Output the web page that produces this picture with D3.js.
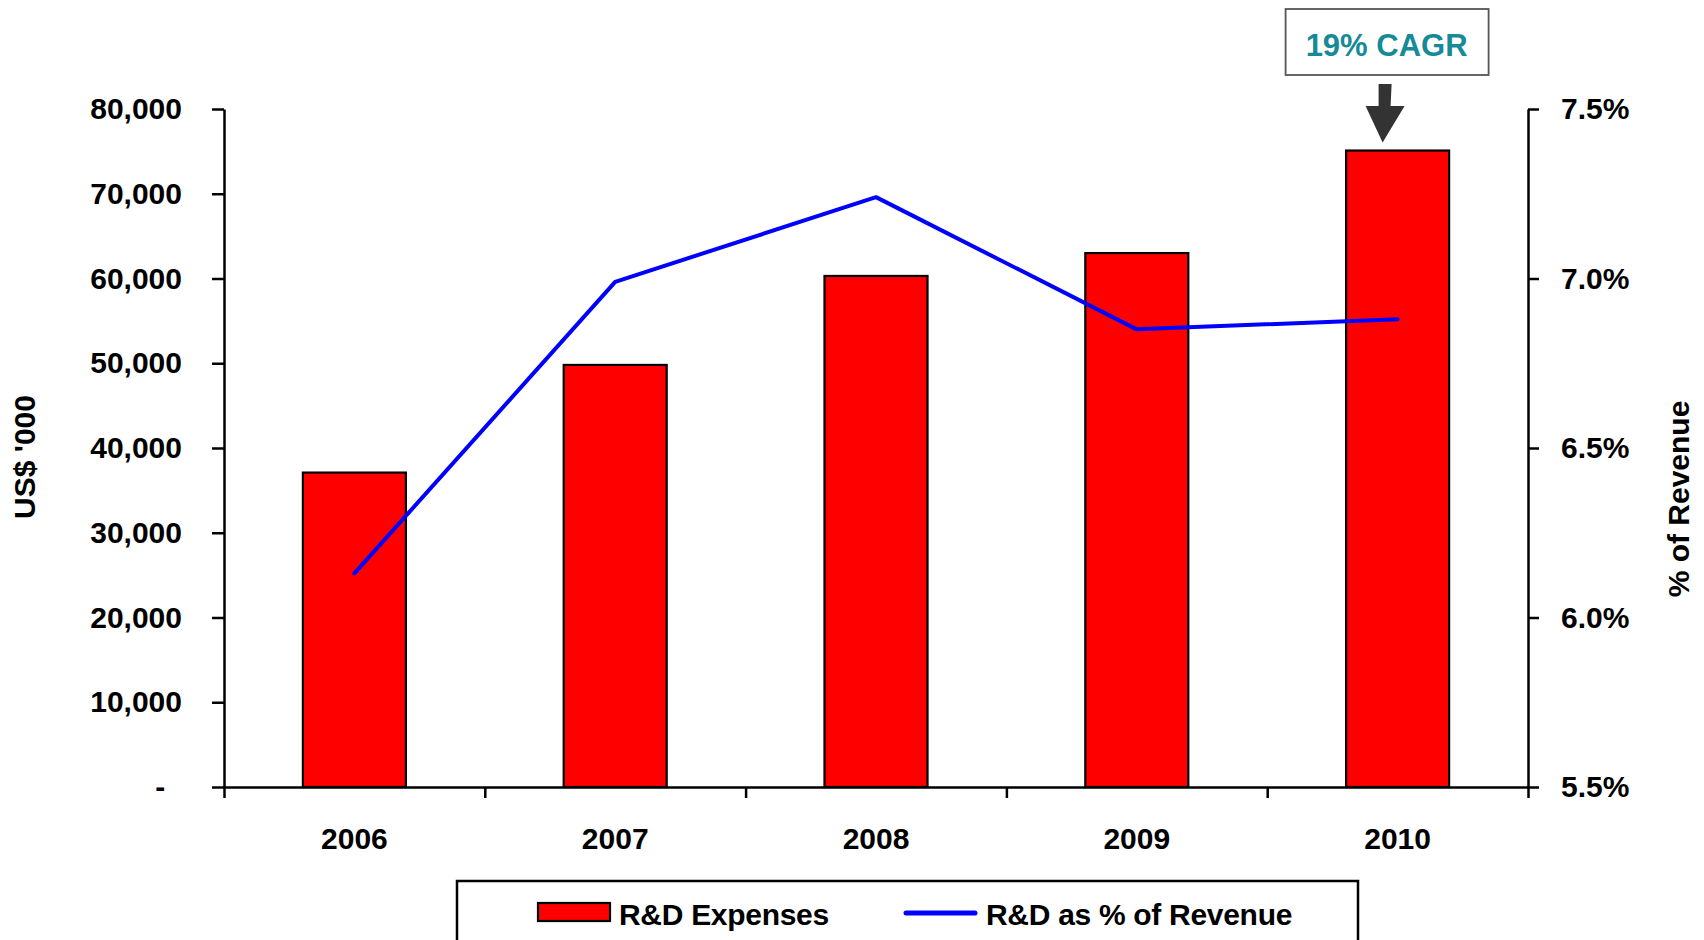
<!DOCTYPE html>
<html>
<head>
<meta charset="utf-8">
<script src="https://cdn.jsdelivr.net/npm/d3@7"></script>
<style>
  html, body { margin: 0; padding: 0; background: #fff; }
  svg { display: block; }
  text { font-family: "Liberation Sans", Arial, sans-serif; font-weight: bold; }
</style>
</head>
<body>
<svg id="chart" width="1704" height="940"></svg>
<script>
// R&D spend by year (US$ '000) and R&D as a share of revenue (%)
const years = ["2006", "2007", "2008", "2009", "2010"];
const rdExpenses = [37100, 49800, 60300, 63000, 75100];
const rdPctRevenue = [6.13, 6.99, 7.24, 6.85, 6.88];
const leftTicks = [0, 10000, 20000, 30000, 40000, 50000, 60000, 70000, 80000];
const rightTicks = [5.5, 6.0, 6.5, 7.0, 7.5];
const legendLabels = ["R&D Expenses", "R&D as % of Revenue"];
const cagrLabel = "19% CAGR";

const svg = d3.select("#chart");
const plot = { left: 224, right: 1528, top: 109, bottom: 787 };

const x = d3.scaleBand().domain(years).range([plot.left, plot.right]).padding(0);
const xEdges = d3.scaleLinear().domain([0, years.length]).range([plot.left, plot.right]);
const yL = d3.scaleLinear().domain([0, 80000]).range([plot.bottom, plot.top]);
const yR = d3.scaleLinear().domain([5.5, 7.5]).range([plot.bottom, plot.top]);
const barW = x.bandwidth() * 0.395;

const fmt = d3.format(",");

// bars
svg.append("g").selectAll("rect")
  .data(years.map((yr, i) => ({ yr, v: rdExpenses[i] })))
  .join("rect")
  .attr("x", d => x(d.yr) + (x.bandwidth() - barW) / 2)
  .attr("y", d => yL(d.v))
  .attr("width", barW)
  .attr("height", d => yL(0) - yL(d.v))
  .attr("fill", "#ff0000")
  .attr("stroke", "#000")
  .attr("stroke-width", 2.2);

// percentage line
const line = d3.line()
  .x(d => x(d.yr) + x.bandwidth() / 2)
  .y(d => yR(d.v));
svg.append("path")
  .datum(years.map((yr, i) => ({ yr, v: rdPctRevenue[i] })))
  .attr("d", line)
  .attr("fill", "none")
  .attr("stroke", "#0000ff")
  .attr("stroke-width", 4)
  .attr("stroke-linecap", "round")
  .attr("stroke-linejoin", "round");

function styleAxis(g) {
  g.selectAll("path, line").attr("stroke", "#000").attr("stroke-width", 2.5);
  g.selectAll("text").attr("fill", "#000").style("font-size", "30px");
}

// left axis
svg.append("g")
  .attr("transform", `translate(${plot.left},0)`)
  .call(d3.axisLeft(yL).tickValues(leftTicks).tickSize(12).tickSizeOuter(0).tickPadding(30)
    .tickFormat(d => d === 0 ? "-\u00a0\u00a0" : fmt(d)))
  .call(styleAxis);

// right axis
svg.append("g")
  .attr("transform", `translate(${plot.right},0)`)
  .call(d3.axisRight(yR).tickValues(rightTicks).tickSize(11).tickSizeOuter(0).tickPadding(22)
    .tickFormat(d => d3.format(".1f")(d) + "%"))
  .call(styleAxis);

// bottom axis: tick marks between categories
svg.append("g")
  .attr("transform", `translate(0,${plot.bottom})`)
  .call(d3.axisBottom(xEdges).ticks(years.length).tickSize(11).tickSizeOuter(0).tickFormat(""))
  .call(styleAxis);

// bottom axis: category labels
svg.append("g")
  .attr("transform", `translate(0,${plot.bottom})`)
  .call(d3.axisBottom(x).tickSize(0).tickPadding(41))
  .call(g => g.select(".domain").remove())
  .call(styleAxis);

// axis titles
svg.append("text")
  .attr("transform", "translate(35,457) rotate(-90)")
  .attr("text-anchor", "middle")
  .style("font-size", "30px")
  .text("US$ '000");

svg.append("text")
  .attr("transform", "translate(1689,499) rotate(-90)")
  .attr("text-anchor", "middle")
  .style("font-size", "30px")
  .text("% of Revenue");

// CAGR callout
const cx = x("2010") + x.bandwidth() / 2 - 11;
svg.append("rect")
  .attr("x", cx - 101).attr("y", 9)
  .attr("width", 203).attr("height", 66)
  .attr("fill", "#fff")
  .attr("stroke", "#555")
  .attr("stroke-width", 1.8);
svg.append("text")
  .attr("x", cx).attr("y", 56)
  .attr("text-anchor", "middle")
  .attr("fill", "#168a97")
  .style("font-size", "31px")
  .text(cagrLabel);

// arrow pointing down at the 2010 bar
const tipY = yL(rdExpenses[4]) - 8;
const ax = cx - 2;
svg.append("path")
  .attr("d", `M${ax - 6},84 L${ax + 7},84 L${ax + 6},106 L${ax + 20},106 L${ax - 2},${tipY} L${ax - 19},106 L${ax - 6},106 Z`)
  .attr("fill", "#333");

// legend
const lg = svg.append("g");
lg.append("rect")
  .attr("x", 457).attr("y", 881)
  .attr("width", 901).attr("height", 80)
  .attr("fill", "#fff")
  .attr("stroke", "#000")
  .attr("stroke-width", 2.5);
lg.append("rect")
  .attr("x", 538).attr("y", 903)
  .attr("width", 72).attr("height", 18)
  .attr("fill", "#ff0000")
  .attr("stroke", "#000")
  .attr("stroke-width", 2.2);
lg.append("text")
  .attr("x", 619).attr("y", 925)
  .style("font-size", "30px")
  .style("letter-spacing", "-0.3px")
  .text(legendLabels[0]);
lg.append("line")
  .attr("x1", 906).attr("x2", 975)
  .attr("y1", 913).attr("y2", 913)
  .attr("stroke", "#0000ff")
  .attr("stroke-width", 5)
  .attr("stroke-linecap", "round");
lg.append("text")
  .attr("x", 986).attr("y", 925)
  .style("font-size", "30px")
  .style("letter-spacing", "-0.3px")
  .text(legendLabels[1]);
</script>
</body>
</html>
